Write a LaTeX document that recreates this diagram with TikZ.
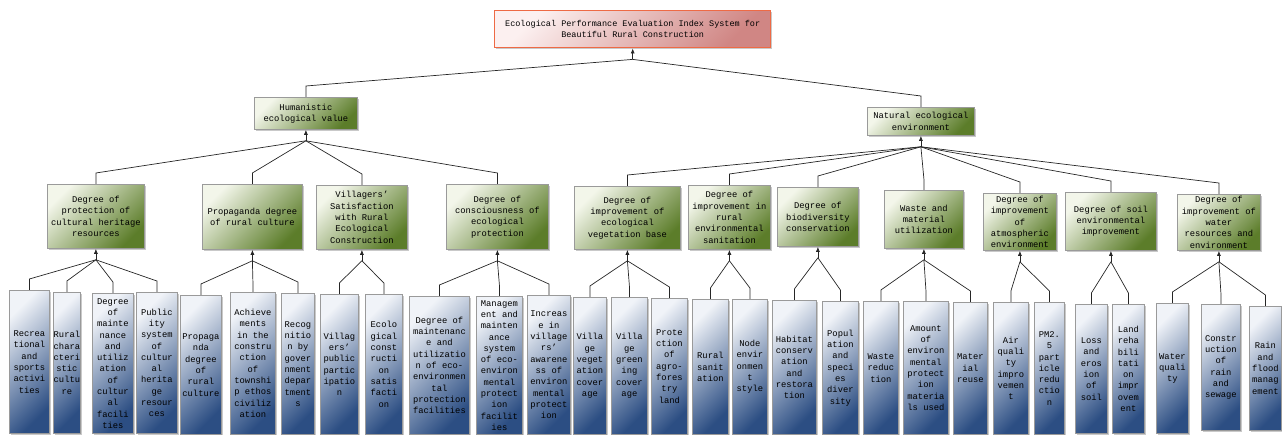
\documentclass[tikz,border=0pt]{standalone}
\usepackage{fontspec}
\setmainfont{Liberation Mono}
\usetikzlibrary{arrows.meta,shadows}
\definecolor{boxgray}{HTML}{9A9A9A}
\definecolor{toporange}{HTML}{EE6A45}
\definecolor{ptop}{HTML}{FCF0F0}
\definecolor{pmid}{HTML}{EEC4C3}
\definecolor{pbot}{HTML}{D08684}
\definecolor{gtop}{HTML}{F3F6EA}
\definecolor{gmid}{HTML}{C3D1A0}
\definecolor{gbot}{HTML}{5C7D2A}
\definecolor{btop}{HTML}{F0F3F8}
\definecolor{bmid}{HTML}{A2B4CD}
\definecolor{bbot}{HTML}{2C4E83}
\tikzset{
  basebox/.style={draw=boxgray, line width=0.8pt, inner sep=0pt, align=center,
    font=\fontsize{8.8}{11.3}\selectfont, text=black,
    drop shadow={shadow xshift=1.5pt,shadow yshift=-1.5pt,opacity=0.3,fill=black!70}},
  topbox/.style={basebox, draw=toporange, line width=1.4pt, font=\fontsize{8.5}{11}\selectfont,
    top color=ptop, middle color=pmid, bottom color=pbot, shading angle=45},
  midbox/.style={basebox, top color=gtop, middle color=gmid, bottom color=gbot, shading angle=45},
  leafbox/.style={basebox, top color=btop, middle color=bmid, bottom color=bbot, shading angle=45},
  conn/.style={draw=black!85, line width=0.7pt},
  arr/.style={conn, -{Latex[length=5pt,width=4pt]}},
}
% name, style, left, top, right, bottom, text
\newcommand\DBox[7]{\node[#2,anchor=north west,minimum width={#5-#3},minimum height={#6-#4}] (#1) at (#3,#4) {#7};}
% parent, child
\newcommand\Lnk[2]{\draw[conn] (#2.north) -- ++(0,-11) -- (#1j);}
\newcommand\Junc[1]{\coordinate (#1j) at ([yshift=-11pt]#1.south);}
\begin{document}
\begin{tikzpicture}[x=1pt,y=-1pt]
\useasboundingbox (0,0) rectangle (1282,435);
% top
\DBox{T}{topbox}{494}{10}{770}{47}{Ecological Performance Evaluation Index System for\\Beautiful Rural Construction}
% level 1
\DBox{A}{midbox}{254}{97}{357}{129}{Humanistic\\ecological value}
\DBox{B}{midbox}{867}{107}{974}{135}{Natural ecological\\environment}
% level 2
\DBox{p1}{midbox}{47}{184}{144}{248}{Degree of\\protection of\\cultural heritage\\resources}
\DBox{p2}{midbox}{202}{184}{302}{249}{Propaganda degree\\of rural culture}
\DBox{p3}{midbox}{316}{185}{407}{249}{Villagers’\\Satisfaction\\with Rural\\Ecological\\Construction}
\DBox{p4}{midbox}{446}{184}{548}{249}{Degree of\\consciousness of\\ecological\\protection}
\DBox{p5}{midbox}{574}{186}{680}{249}{Degree of\\improvement of\\ecological\\vegetation base}
\DBox{p6}{midbox}{688}{185}{770}{249}{Degree of\\improvement in\\rural\\environmental\\sanitation}
\DBox{p7}{midbox}{777}{187}{858}{246}{Degree of\\biodiversity\\conservation}
\DBox{p8}{midbox}{884}{190}{963}{248}{Waste and\\material\\utilization}
\DBox{p9}{midbox}{983}{193}{1056}{250}{Degree of\\improvement\\of\\atmospheric\\environment}
\DBox{p10}{midbox}{1065}{192}{1156}{250}{Degree of soil\\environmental\\improvement}
\DBox{p11}{midbox}{1177}{194}{1260}{250}{Degree of\\improvement of\\water\\resources and\\environment}
% level 3
\DBox{c1}{leafbox}{9}{290}{49}{433}{Recrea\\tional\\and\\sports\\activi\\ties}
\DBox{c2}{leafbox}{53}{292}{80}{433}{Rural\\chara\\cteri\\stic\\cultu\\re}
\DBox{c3}{leafbox}{92}{293}{133}{433}{Degree\\of\\mainte\\nance\\and\\utiliz\\ation\\of\\cultur\\al\\facili\\ties}
\DBox{c4}{leafbox}{136}{292}{177}{433}{Public\\ity\\system\\of\\cultur\\al\\herita\\ge\\resour\\ces}
\DBox{c5}{leafbox}{180}{295}{221}{434}{Propaga\\nda\\degree\\of\\rural\\culture}
\DBox{c6}{leafbox}{230}{292}{275}{434}{Achieve\\ments\\in the\\constru\\ction\\of\\townshi\\p ethos\\civiliz\\ation}
\DBox{c7}{leafbox}{281}{293}{314}{434}{Recog\\nitio\\n by\\gover\\nment\\depar\\tment\\s}
\DBox{c8}{leafbox}{320}{294}{358}{434}{Villag\\ers’\\public\\partic\\ipatio\\n}
\DBox{c9}{leafbox}{365}{294}{402}{434}{Ecolo\\gical\\const\\ructi\\on\\satis\\facti\\on}
\DBox{c10}{leafbox}{409}{296}{469}{434}{Degree of\\maintenanc\\e and\\utilizatio\\n of eco-\\environmen\\tal\\protection\\facilities}
\DBox{c11}{leafbox}{476}{296}{522}{434}{Managem\\ent and\\mainten\\ance\\system\\of eco-\\environ\\mental\\protect\\ion\\facilit\\ies}
\DBox{c12}{leafbox}{527}{295}{570}{434}{Increas\\e in\\village\\rs’\\awarene\\ss of\\environ\\mental\\protect\\ion}
\DBox{c13}{leafbox}{573}{297}{606}{434}{Villa\\ge\\veget\\ation\\cover\\age}
\DBox{c14}{leafbox}{611}{297}{647}{434}{Villa\\ge\\green\\ing\\cover\\age}
\DBox{c15}{leafbox}{651}{298}{687}{434}{Prote\\ction\\of\\agro-\\fores\\try\\land}
\DBox{c16}{leafbox}{692}{299}{728}{434}{Rural\\sanit\\ation}
\DBox{c17}{leafbox}{732}{299}{767}{434}{Node\\envir\\onmen\\t\\style}
\DBox{c18}{leafbox}{772}{300}{816}{434}{Habitat\\conserv\\ation\\and\\restora\\tion}
\DBox{c19}{leafbox}{822}{301}{858}{434}{Popul\\ation\\and\\speci\\es\\diver\\sity}
\DBox{c20}{leafbox}{863}{301}{898}{434}{Waste\\reduc\\tion}
\DBox{c21}{leafbox}{903}{301}{948}{434}{Amount\\of\\environ\\mental\\protect\\ion\\materia\\ls used}
\DBox{c22}{leafbox}{953}{302}{987}{434}{Mater\\ial\\reuse}
\DBox{c23}{leafbox}{993}{302}{1028}{434}{Air\\quali\\ty\\impro\\vemen\\t}
\DBox{c24}{leafbox}{1034}{302}{1064}{434}{PM2.\\5\\part\\icle\\redu\\ctio\\n}
\DBox{c25}{leafbox}{1075}{304}{1107}{433}{Loss\\and\\eros\\ion\\of\\soil}
\DBox{c26}{leafbox}{1112}{304}{1144}{433}{Land\\reha\\bili\\tati\\on\\impr\\ovem\\ent}
\DBox{c27}{leafbox}{1156}{303}{1188}{433}{Water\\quali\\ty}
\DBox{c28}{leafbox}{1201}{304}{1240}{430}{Constr\\uction\\of\\rain\\and\\sewage}
\DBox{c29}{leafbox}{1249}{306}{1281}{430}{Rain\\and\\flood\\manag\\ement}
% junctions and arrows
\foreach \p in {T,A,B,p1,p2,p3,p4,p5,p6,p7,p8,p9,p10,p11}{
  \Junc{\p}
  \draw[arr] (\p j) -- (\p.south);
}
% links
\Lnk{T}{A} \Lnk{T}{B}
\Lnk{A}{p1} \Lnk{A}{p2} \Lnk{A}{p3} \Lnk{A}{p4}
\Lnk{B}{p5} \Lnk{B}{p6} \Lnk{B}{p7} \Lnk{B}{p8} \Lnk{B}{p9} \Lnk{B}{p10} \Lnk{B}{p11}
\Lnk{p1}{c1} \Lnk{p1}{c2} \Lnk{p1}{c3} \Lnk{p1}{c4}
\Lnk{p2}{c5} \Lnk{p2}{c6} \Lnk{p2}{c7}
\Lnk{p3}{c8} \Lnk{p3}{c9}
\Lnk{p4}{c10} \Lnk{p4}{c11} \Lnk{p4}{c12}
\Lnk{p5}{c13} \Lnk{p5}{c14} \Lnk{p5}{c15}
\Lnk{p6}{c16} \Lnk{p6}{c17}
\Lnk{p7}{c18} \Lnk{p7}{c19}
\Lnk{p8}{c20} \Lnk{p8}{c21} \Lnk{p8}{c22}
\Lnk{p9}{c23} \Lnk{p9}{c24}
\Lnk{p10}{c25} \Lnk{p10}{c26}
\Lnk{p11}{c27} \Lnk{p11}{c28} \Lnk{p11}{c29}
\end{tikzpicture}
\end{document}
